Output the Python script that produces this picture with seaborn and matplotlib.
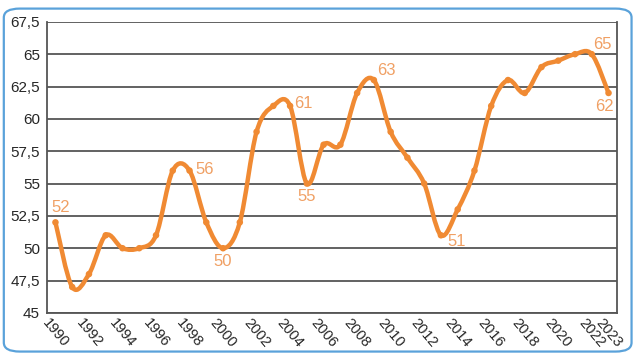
import numpy as np
import pandas as pd
import matplotlib
matplotlib.use("Agg")
import matplotlib.pyplot as plt
import seaborn as sns
from matplotlib.path import Path
from matplotlib.patches import PathPatch, FancyBboxPatch

# ==============================
# DADOS
# ==============================
years = list(range(1990, 2024))
values = [52, 47, 48, 51, 50, 50, 51, 56, 56, 52,
          50, 52, 59, 61, 61, 55, 58, 58, 62, 63,
          59, 57, 55, 51, 53, 56, 61, 63, 62, 64,
          64.5, 65, 65, 62]

# rótulos: (ano, texto, deslocamento em pixels)
label_years = [1990, 1998, 2000, 2004, 2005, 2009, 2013, 2022, 2023]
label_texts = ["52", "56", "50", "61", "55", "63", "51", "65", "62"]
label_offsets = [(5, 15), (15, 1), (0, -13), (13, 2), (0, -13),
                 (12, 10), (16, -6), (11, 10), (-4, -14)]

yticks = [45, 47.5, 50, 52.5, 55, 57.5, 60, 62.5, 65, 67.5]
xticks = list(range(1990, 2023, 2)) + [2023]

df = pd.DataFrame({"ano": years, "valor": values})

# ==============================
# ESTILO
# ==============================
sns.set_style("white")
plt.rcParams["font.family"] = ["Liberation Sans Narrow", "Liberation Sans", "DejaVu Sans"]

line_color = "#F08A33"
text_color = "#F0A064"
grid_color = "#555555"

fig = plt.figure(figsize=(6.36, 3.58), dpi=100)
ax = fig.add_axes([0.074, 0.126, 0.896, 0.813])

# moldura arredondada azul
frame = FancyBboxPatch((0.006, 0.018), 0.987, 0.958,
                       boxstyle="round,pad=0,rounding_size=0.025",
                       transform=fig.transFigure, fill=False,
                       edgecolor="#5AA2DA", linewidth=1.6, zorder=0)
fig.patches.append(frame)

# ==============================
# LINHA SUAVIZADA (Bezier tipo Catmull-Rom)
# ==============================
x = np.array(years, dtype=float)
y = np.array(values, dtype=float)
verts = [(x[0], y[0])]
codes = [Path.MOVETO]
n = len(x)
for i in range(n - 1):
    p0 = (x[max(i - 1, 0)], y[max(i - 1, 0)])
    p1 = (x[i], y[i])
    p2 = (x[i + 1], y[i + 1])
    p3 = (x[min(i + 2, n - 1)], y[min(i + 2, n - 1)])
    c1 = (p1[0] + (p2[0] - p0[0]) / 6, p1[1] + (p2[1] - p0[1]) / 6)
    c2 = (p2[0] - (p3[0] - p1[0]) / 6, p2[1] - (p3[1] - p1[1]) / 6)
    verts += [c1, c2, p2]
    codes += [Path.CURVE4] * 3

patch = PathPatch(Path(verts, codes), facecolor="none", edgecolor=line_color,
                  linewidth=3.2, capstyle="round", joinstyle="round", zorder=3)
ax.add_patch(patch)

sns.scatterplot(data=df, x="ano", y="valor", ax=ax, color=line_color,
                s=22, edgecolor="none", zorder=4, legend=False)

# rótulos
for yr, txt, off in zip(label_years, label_texts, label_offsets):
    ax.annotate(txt, (yr, values[years.index(yr)]), xytext=off,
                textcoords="offset pixels", ha="center", va="center",
                color=text_color, fontsize=12)

# ==============================
# EIXOS
# ==============================
ax.set_xlim(1989.5, 2023.5)
ax.set_ylim(45, 67.5)
ax.set_yticks(yticks)
ax.set_yticklabels([("%g" % t).replace(".", ",") for t in yticks], fontsize=11)
ax.set_xticks(xticks)
ax.set_xticklabels([str(t) for t in xticks], rotation=-50, ha="center",
                   va="top", fontsize=10.5)
ax.tick_params(axis="y", length=3, color=grid_color, pad=2)
ax.tick_params(axis="x", length=0, pad=2)
ax.set_xlabel("")
ax.set_ylabel("")

for yt in yticks:
    ax.axhline(yt, color=grid_color, linewidth=1.3, zorder=1)
for side in ["left", "bottom", "right"]:
    ax.spines[side].set_color(grid_color)
    ax.spines[side].set_linewidth(1.3)
ax.spines["top"].set_visible(False)

fig.savefig("out.png", dpi=100)
